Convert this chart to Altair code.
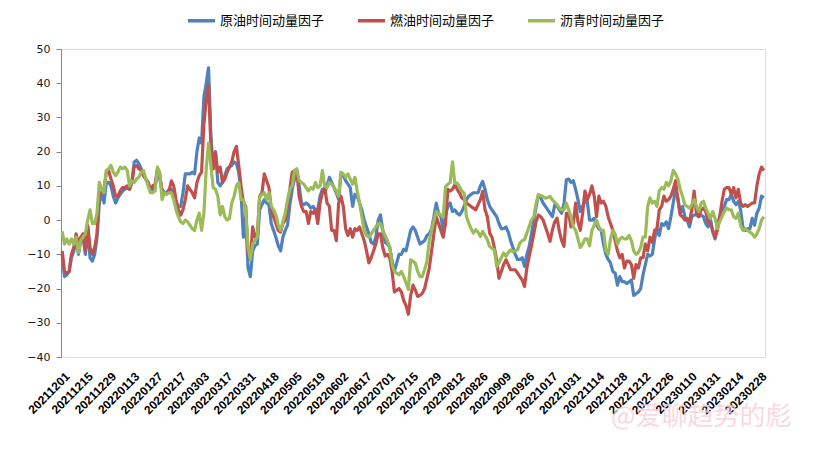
import json
import altair as alt
import pandas as pd

# ---- data (one value per trading day) ----
crude = [
    -10, -16.5, -16, -15, -11, -9, -6, -10, -6, -5,
    -10, -2, -11, -12, -10, -5, 5, 8, 5, 11,
    11, 10, 7, 5, 6.5, 7.5, 8.5, 9, 9.5, 9,
    11, 17, 17.5, 16.5, 15, 13, 12, 11, 9, 9,
    10, 14, 12, 9, 8, 8, 9, 9, 7, 5,
    4, 4, 8, 13.5, 13.5, 13.5, 14, 13.5, 20, 24,
    22.5, 36, 40, 44.5, 25, 15, 20, 11, 10, 11,
    13, 15, 15.5, 16, 17, 16.5, 14, 8, -5, 1,
    -14, -16.5, -9, -7.5, -7, 3, 4.5, 6, 5, 4.5,
    -1, -3, -5, -7.5, -9, -5, -3, -1.5, 4.5, 9,
    12, 14, 10, 5, 4.5, 5, 4.5, 3.5, 4, 3,
    3, 7, 9, 8, 10, 12.5, 11, 9.5, 8, 6,
    13.5, 13, 11.5, 10.5, 9.5, 4, 7.5, 7, 5, 3,
    0, -2, -4, -6.5, -7, -5, 0, 1.5, -3, -6.5,
    -7, -8, -12, -15, -12.5, -10, -10, -8.5, -9, -6,
    -3, -2, -3, -5, -7, -6.5, -6, -4.5, -4, -2.5,
    1, 5, 2, 1, -2.8, 1.5, 4, 5, 2.5, 3,
    2, 1.5, 2.5, 4, 6, 7, 7.5, 8, 8, 8,
    10, 11.3, 9, 6, 4, 3, 2, 1, -1, -2.5,
    -2.5, -2, -3.5, -6, -8, -10, -11.5, -11.5, -11, -13.5,
    -10, -7.7, -4, 0, 4, 7.4, 6.5, 5, 4, 3,
    2, 1, 4.5, 4, 3, 2, 5, 11.8, 12, 11,
    11.5, 9, 6, 2.5, 4, 5.5, 5.5, 0, 0, 0.5,
    -1.5, -2.5, -3, -7, -10, -11.5, -12.5, -15, -15.5, -19,
    -16.5, -18, -18, -18.5, -18, -17.5, -22, -21.5, -21, -20,
    -16, -13, -10, -10.5, -10, -5.5, -2.5, -4.5, -1, -1.5,
    -0.5, -2.5, 1, 5, 9, 6.5, 2, 4, 1, 0,
    -2, 1, 1.5, 1.5, 1, 1.5, 1, -1, -2, 0.5,
    -3.5, -5.5, -2, 1, 3, 4, 6, 6, 7.5, 5.5,
    4.5, 5.5, 3, -2, -3, -2.5, -2.5, 0.5, -1.5, 2,
    3.5, 7, 6.5,
]
fuel = [
    -9, -15, -15.5, -15, -10, -8, -4, -7, -5, -4,
    -9, -1.5, -8, -10, -8, -4, 8, 8, 9, 14,
    14.5, 12, 10, 7, 7, 8.5, 9.5, 9.5, 10, 9,
    11, 15.5, 16, 15, 14.5, 13, 12, 11, 9, 10,
    10.5, 15, 13.5, 8, 8, 8, 8.5, 11.5, 10, 6,
    3, 1.5, 3, 6, 10, 9, 8, 6.5, 11, 13,
    14, 28, 35, 39.5, 22, 15, 19.5, 14, 15.5, 11,
    12, 14, 15.5, 17, 20, 21.5, 16, 10, 5, 4,
    -10, -11.5, -2, -5, -4.5, 7, 8, 13.5, 11.5, 9.5,
    3, 1, -1, -3, -3.5, -1, 0, 4, 9, 14,
    14.5, 14.5, 7, 4, 2.5, 2.5, -1, 2.5, 2, 3,
    -1, 5, 8, 9.5, 5, 4, -3, -3, -6, 5,
    7, 4, -2.5, -4.5, -2.5, -5, -2.5, -3, -2, -4,
    -6, -9, -12.5, -11, -9, -7, -4, -4, -8, -10.5,
    -10, -11, -15, -21, -20.5, -20, -21, -23.5, -25, -27.5,
    -22, -19, -20.5, -22.3, -22, -21.4, -20, -17, -14, -9,
    -4, 1, -1, -3, -5, -1, 9, 8.5, 9, 10.3,
    9, 8, 6.5, 6, 5, 4.5, 4, 3.5, 3, 4.5,
    6, 8.4, 3, 1, -3.8, -5, -8, -11.6, -17, -15,
    -13, -11.6, -13, -14.5, -14.5, -14.5, -15.5, -16.5, -17.5, -19.4,
    -14, -10.6, -7.5, -4, -0.4, 1.5, 1, 0, -2, -4,
    -6.2, -2.8, -0.5, 0.6, -3.3, -6, -7.7, 2, 2, -2,
    -1, 5, -0.5, -3, 2, 8.5, 6, 7.5, 10, 7,
    1, 7, 5, 5.5, 4, 1, -1, -3, -6, -9,
    -11, -10, -14, -12, -12, -13, -17, -13, -14, -11,
    -11, -7, -9, -5, -6.5, -3, -2.5, 3, 4, 7,
    5.5, 6, 7, 9, 11.5, 6, 1.5, 1, 0, 0.5,
    -0.5, 3, 8.5, 2, 1, 3, 3.5, 2.5, -0.5, -1,
    -3, -5, -3, 1, 5.5, 9, 9.5, 9.5, 7.5, 9.5,
    6.5, 9, 5, 4, 4.5, 4, 4.5, 5, 5, 10,
    13.5, 15.5, 14.5,
]
asphalt = [
    -3.3, -7, -5.5, -7, -5.5, -7, -5, -9.5, -6, -5,
    -4, 0, 3, -1, -1, 2, 11, 9, 8, 14.5,
    15, 16, 14, 13, 14, 15.5, 15, 15.5, 14.5, 10,
    11.5, 11, 12, 12.5, 14, 14.5, 12, 10, 8, 8,
    8.5, 15.5, 14, 6, 8, 7.5, 8, 8, 6, 3,
    1, -0.5, -1, 0, -0.5, -1.5, -2.5, -3, 0, 2,
    -3, 2, 15, 22.5, 16, 9.5, 9, 7, 1.5, 4,
    1, 0, 0.5, 5, 7, 10, 11, 6, 6, 3,
    -8, -11.5, -7, -6, -5, 7, 7.5, 8, 6, 8,
    4, 3, 1.5, -1.5, -3, -0.5, 2, 6, 9, 10,
    14.5, 15, 11.5, 11, 10.5, 9.5, 8.5, 9.5, 9, 11,
    9.5, 10, 14.5, 10, 9.5, 11, 10.5, 9.5, 8.5, 7,
    14, 13.5, 12.5, 13.5, 12, 10.5, 12.5, 8.5, 5, 1,
    -3, -4.5, -5, -4, -3, -2, -1, -1, -3, -4.5,
    -6, -8, -13, -15, -15.5, -16, -15, -16.5, -18.3, -20.3,
    -11.6, -12, -12.6, -15, -16.5, -16.5, -14.5, -12, -6, -3,
    0, 2.5, 2, 1.5, 1, 9.8, 10.5, 11, 17, 10.8,
    10.8, 9.8, 8.5, 7.9, 1, -0.9, -2.5, -3.8, -2.8, -3.5,
    -4.8, -3.3, -4.5, -5.7, -7.7, -8.2, -8.7, -13.5, -12.5, -11,
    -9.6, -10.6, -9.5, -8.7, -9.2, -9, -8.7, -6.7, -6, -5.7,
    -3.8, -1.9, 0, 1, 5, 7.4, 7.2, 6.9, 6.4, 6.6,
    6.9, 5.9, 5.2, 4.5, 3.5, 3, 3, 5, 3, 1,
    -2, -3, -5.5, -8, -7, -5.5, -5.5, -7.5, -3, -1.5,
    0, -2, -3, -3, -9, -10, -5.5, -3, -4, -7,
    -5.5, -5, -5.5, -5.5, -4.5, -6, -9, -10, -9.5, -8,
    -5, -5, 4, 6.5, 5, 5.5, 4, 8.5, 9.5, 9,
    11, 10, 11.5, 14.5, 13.5, 12, 9, 7, 4.5, 4,
    3.5, 4.5, 6, 4, 2.5, 5, 5.5, 3.5, 2, 0.5,
    2.5, 0.5, -2.5, -0.5, 1, 2.5, 3.5, 3, 3, 1,
    0.5, 2, -1.5, -3, -2.5, -3, -3.5, -4, -5, -4,
    -2.5, 0, 1,
]
tick_labels = [
    "20211201", "20211215", "20211229", "20220113", "20220127", "20220217",
    "20220303", "20220317", "20220331", "20220418", "20220505", "20220519",
    "20220602", "20220617", "20220701", "20220715", "20220729", "20220812",
    "20220826", "20220909", "20220926", "20221017", "20221031", "20221114",
    "20221128", "20221212", "20221226", "20230110", "20230131", "20230214",
    "20230228",
]
series_names = ["原油时间动量因子", "燃油时间动量因子", "沥青时间动量因子"]
series_colors = ["#4F81BD", "#C0504D", "#9BBB59"]
y_ticks = [-40, -30, -20, -10, 0, 10, 20, 30, 40, 50]
watermark = "@爱聊趋势的彪"

# ---- build table ----
rows = []
for name, vals in zip(series_names, [crude, fuel, asphalt]):
    for i, v in enumerate(vals):
        rows.append({"idx": i, "value": v, "series": name})
df = pd.DataFrame(rows)

n = len(crude)
label_js = json.dumps(tick_labels, ensure_ascii=False)

x_enc = alt.X(
    "idx:Q",
    scale=alt.Scale(domain=[-0.5, n - 0.5], nice=False, zero=False),
    axis=alt.Axis(
        values=list(range(0, len(tick_labels) * 10, 10)),
        labelExpr=f"{label_js}[round(datum.value / 10)]",
        labelAngle=-45,
        labelAlign="right",
        labelBaseline="middle",
        labelPadding=17,
        labelOffset=5,
        labelOverlap=False,
        labelBound=False,
        labelFlush=False,
        labelFont="Liberation Sans",
        labelFontWeight="bold",
        labelFontSize=12,
        labelColor="#000000",
        domain=False,
        ticks=False,
        grid=False,
        title=None,
    ),
)
y_enc = alt.Y(
    "value:Q",
    scale=alt.Scale(domain=[-40, 50], nice=False, zero=False),
    axis=alt.Axis(
        values=y_ticks,
        grid=False,
        domainColor="#868686",
        tickColor="#868686",
        tickSize=5,
        labelFont="DejaVu Sans",
        labelFontSize=11,
        labelColor="#1a1a1a",
        labelPadding=6,
        title=None,
    ),
)
color_enc = alt.Color(
    "series:N",
    scale=alt.Scale(domain=series_names, range=series_colors),
    legend=alt.Legend(
        orient="none",
        legendX=125,
        legendY=-44,
        direction="horizontal",
        title=None,
        symbolType="stroke",
        symbolSize=729,
        symbolStrokeWidth=3.5,
        labelFont="Noto Sans CJK SC",
        labelFontSize=13,
        labelColor="#000000",
        labelLimit=300,
        labelOffset=3,
        columnPadding=26,
        padding=0,
    ),
)

base = alt.Chart(df)
layers = [
    base.transform_filter(alt.datum.series == s)
    .mark_line(strokeWidth=3.2, strokeJoin="round")
    .encode(x=x_enc, y=y_enc, color=color_enc)
    for s in series_names
]

wm = (
    alt.Chart(pd.DataFrame({"t": [watermark]}))
    .mark_text(
        align="left",
        baseline="middle",
        font="Noto Sans CJK SC",
        fontSize=26,
        color="#f9cfd8",
        opacity=0.8,
    )
    .encode(text="t:N", x=alt.value(550), y=alt.value(368))
)

chart = (
    alt.layer(*layers, wm)
    .properties(
        width=704,
        height=308,
        autosize=alt.AutoSizeParams(type="none"),
        padding={"left": 53, "top": 41, "right": 50, "bottom": 90},
    )
    .configure_view(stroke=None)
    .configure(background="#ffffff")
)

chart.save("out.html", embed_options={"renderer": "svg", "actions": False})
